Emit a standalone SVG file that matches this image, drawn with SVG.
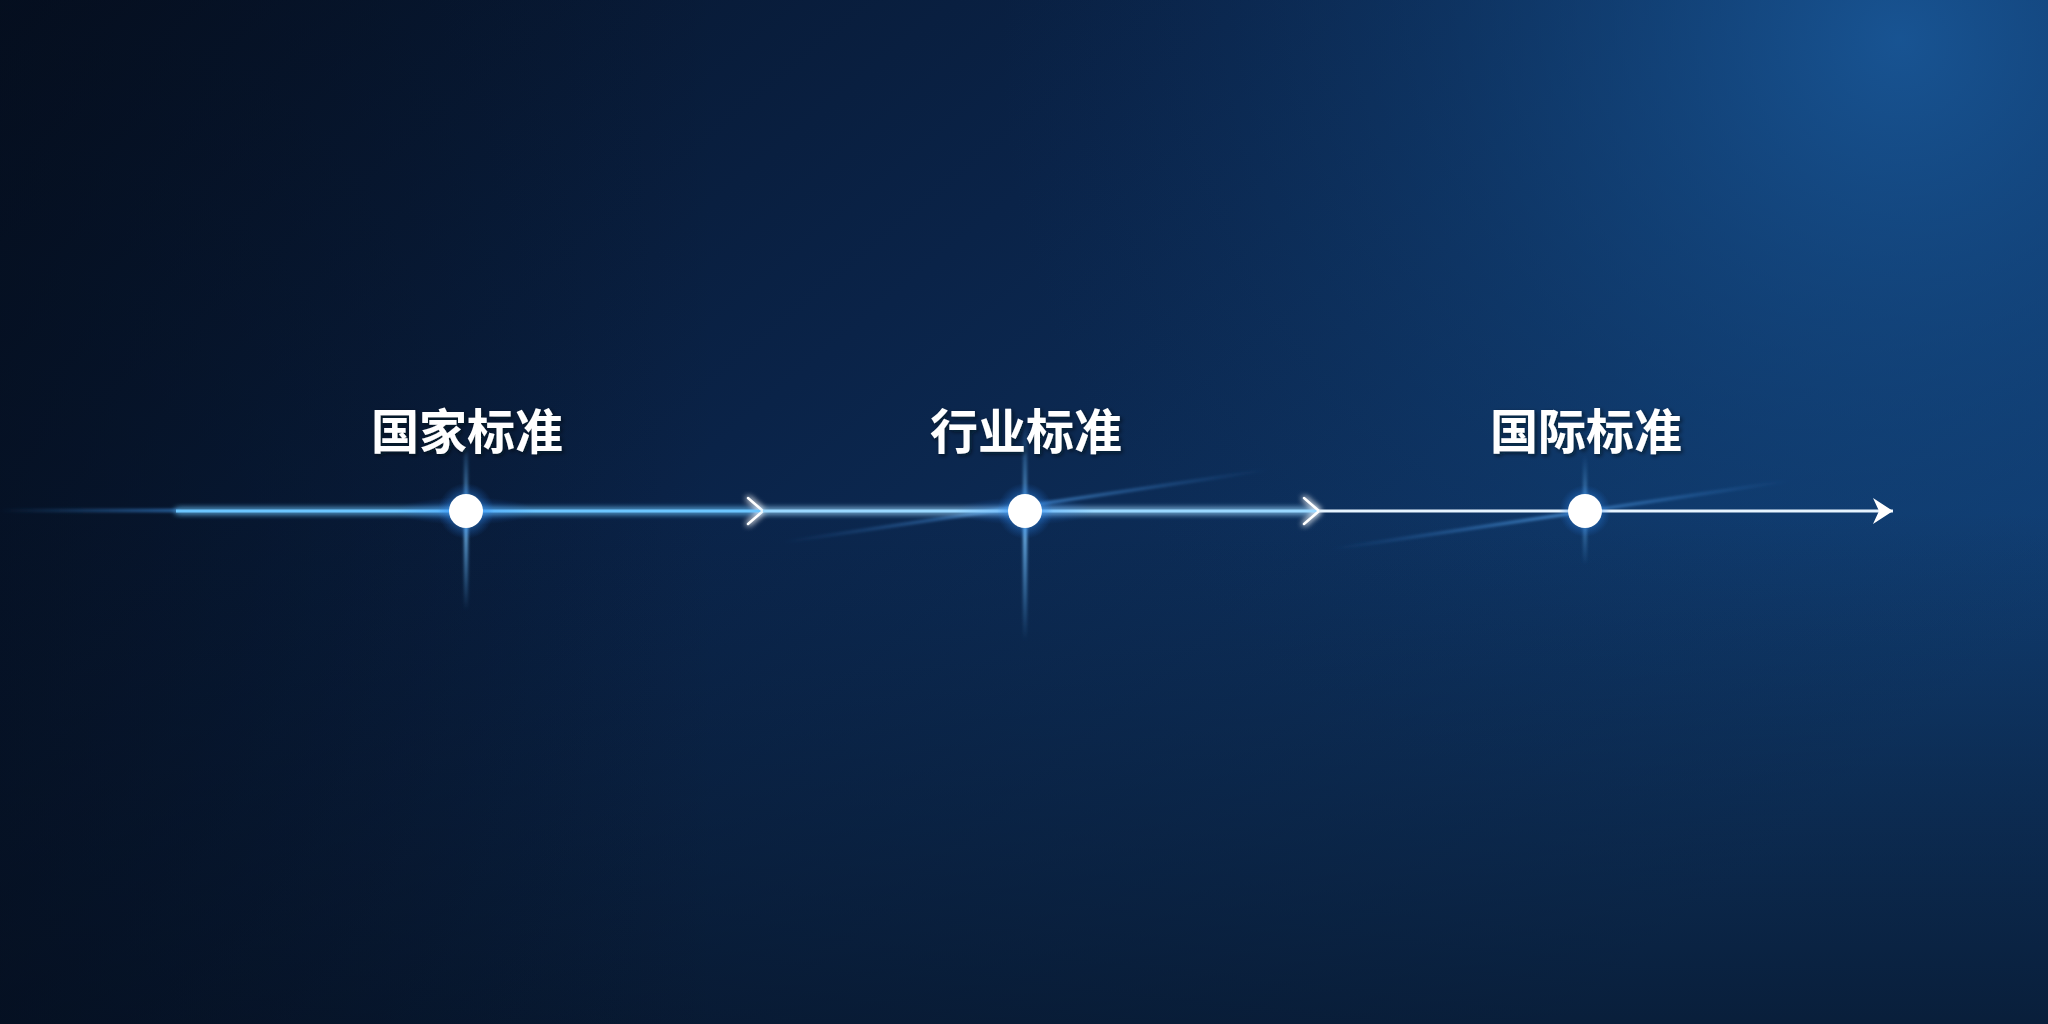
<svg xmlns="http://www.w3.org/2000/svg" width="2048" height="1024" viewBox="0 0 2048 1024">
<defs>
<linearGradient id="bg" x1="0" y1="0" x2="1" y2="0.6">
<stop offset="0" stop-color="#061226"/>
<stop offset="0.45" stop-color="#0a2348"/>
<stop offset="1" stop-color="#103c70"/>
</linearGradient>
<radialGradient id="tr" cx="1900" cy="40" r="900" gradientUnits="userSpaceOnUse">
<stop offset="0" stop-color="#1a5a9c" stop-opacity="0.85"/>
<stop offset="0.5" stop-color="#134a85" stop-opacity="0.35"/>
<stop offset="1" stop-color="#0d3566" stop-opacity="0"/>
</radialGradient>
<linearGradient id="bot" x1="0" y1="0" x2="0" y2="1">
<stop offset="0.5" stop-color="#061224" stop-opacity="0"/>
<stop offset="1" stop-color="#061224" stop-opacity="0.7"/>
</linearGradient>
<linearGradient id="lft" x1="0" y1="0" x2="1" y2="0">
<stop offset="0" stop-color="#040c1a" stop-opacity="0.6"/>
<stop offset="0.35" stop-color="#040c1a" stop-opacity="0"/>
</linearGradient>
<radialGradient id="halo">
<stop offset="0" stop-color="#b5e4ff" stop-opacity="0.95"/>
<stop offset="0.45" stop-color="#3a9cff" stop-opacity="0.5"/>
<stop offset="1" stop-color="#1e6fd8" stop-opacity="0"/>
</radialGradient>
<radialGradient id="hhalo">
<stop offset="0" stop-color="#3a9cff" stop-opacity="0.45"/>
<stop offset="1" stop-color="#1e6fd8" stop-opacity="0"/>
</radialGradient>
<linearGradient id="vflare" x1="0" y1="0" x2="0" y2="1">
<stop offset="0" stop-color="#5ab4ff" stop-opacity="0"/>
<stop offset="0.5" stop-color="#7cc6ff" stop-opacity="0.9"/>
<stop offset="1" stop-color="#5ab4ff" stop-opacity="0"/>
</linearGradient>
<linearGradient id="dflare" x1="0" y1="0" x2="1" y2="0">
<stop offset="0" stop-color="#3c8fe8" stop-opacity="0"/>
<stop offset="0.5" stop-color="#5aaaf5" stop-opacity="0.8"/>
<stop offset="1" stop-color="#3c8fe8" stop-opacity="0"/>
</linearGradient>
<linearGradient id="leadin" x1="0" y1="0" x2="1" y2="0">
<stop offset="0" stop-color="#3a8de0" stop-opacity="0"/>
<stop offset="1" stop-color="#3a8de0" stop-opacity="0.7"/>
</linearGradient>
<filter id="glow" filterUnits="userSpaceOnUse" x="0" y="480" width="2048" height="62">
<feGaussianBlur stdDeviation="3" result="b"/>
<feMerge><feMergeNode in="b"/><feMergeNode in="b"/><feMergeNode in="SourceGraphic"/></feMerge>
</filter>
<filter id="soft" filterUnits="userSpaceOnUse" x="0" y="0" width="2048" height="1024">
<feGaussianBlur stdDeviation="1.5"/>
</filter>
<filter id="tshadow" x="-10%" y="-30%" width="120%" height="160%">
<feDropShadow dx="2" dy="2" stdDeviation="2" flood-color="#000814" flood-opacity="0.6"/>
</filter>
<marker id="chev" viewBox="0 0 20 30" refX="18" refY="15" markerWidth="20" markerHeight="30" markerUnits="userSpaceOnUse" orient="auto">
<path d="M3 2 L18 15 L3 28" fill="none" stroke="#ffffff" stroke-width="2.5" stroke-linecap="round" stroke-linejoin="round"/>
</marker>
<marker id="head" viewBox="0 0 24 30" refX="22" refY="15" markerWidth="24" markerHeight="30" markerUnits="userSpaceOnUse" orient="auto">
<path d="M2 2 L22 15 L2 28 L8 15 Z" fill="#ffffff"/>
</marker>
</defs>
<style>
.lbl{font-family:"Noto Sans CJK SC","Noto Sans",sans-serif;font-size:48px;font-weight:700;fill:#ffffff;text-anchor:middle}
.seg{stroke-width:3;fill:none}
</style>
<rect width="2048" height="1024" fill="url(#bg)"/>
<rect width="2048" height="1024" fill="url(#tr)"/>
<rect width="2048" height="1024" fill="url(#bot)"/>
<rect width="2048" height="1024" fill="url(#lft)"/>

<g id="flares">
<rect x="0" y="509" width="180" height="3" fill="url(#leadin)" filter="url(#soft)"/>
<line x1="784" y1="542" x2="1267" y2="470" stroke="url(#dflare)" stroke-width="2.5" filter="url(#soft)"/>
<line x1="1332" y1="549" x2="1789" y2="481" stroke="url(#dflare)" stroke-width="2.5" filter="url(#soft)"/>
<rect x="464" y="440" width="4" height="170" fill="url(#vflare)" filter="url(#soft)"/>
<rect x="1023" y="420" width="4" height="220" fill="url(#vflare)" filter="url(#soft)"/>
<rect x="1583" y="455" width="4" height="110" fill="url(#vflare)" opacity="0.7" filter="url(#soft)"/>
</g>

<g id="connectors">
<line class="seg" x1="176" y1="511" x2="763" y2="511" stroke="#6cc6ff" filter="url(#glow)" marker-end="url(#chev)"/>
<line class="seg" x1="763" y1="511" x2="1319" y2="511" stroke="#9ad8ff" filter="url(#glow)" marker-end="url(#chev)"/>
<line class="seg" x1="1319" y1="511" x2="1893" y2="511" stroke="#e6f4ff" marker-end="url(#head)"/>
</g>

<g id="node1">
<ellipse cx="466" cy="511" rx="70" ry="14" fill="url(#hhalo)"/>
<circle cx="466" cy="511" r="28" fill="url(#halo)"/>
<circle cx="466" cy="511" r="17" fill="#ffffff"/>
<text class="lbl" x="467" y="449" filter="url(#tshadow)">国家标准</text>
</g>
<g id="node2">
<ellipse cx="1025" cy="511" rx="70" ry="14" fill="url(#hhalo)"/>
<circle cx="1025" cy="511" r="28" fill="url(#halo)"/>
<circle cx="1025" cy="511" r="17" fill="#ffffff"/>
<text class="lbl" x="1026" y="449" filter="url(#tshadow)">行业标准</text>
</g>
<g id="node3">
<circle cx="1585" cy="511" r="26" fill="url(#halo)"/>
<circle cx="1585" cy="511" r="17" fill="#ffffff"/>
<text class="lbl" x="1586" y="449" filter="url(#tshadow)">国际标准</text>
</g>
</svg>
